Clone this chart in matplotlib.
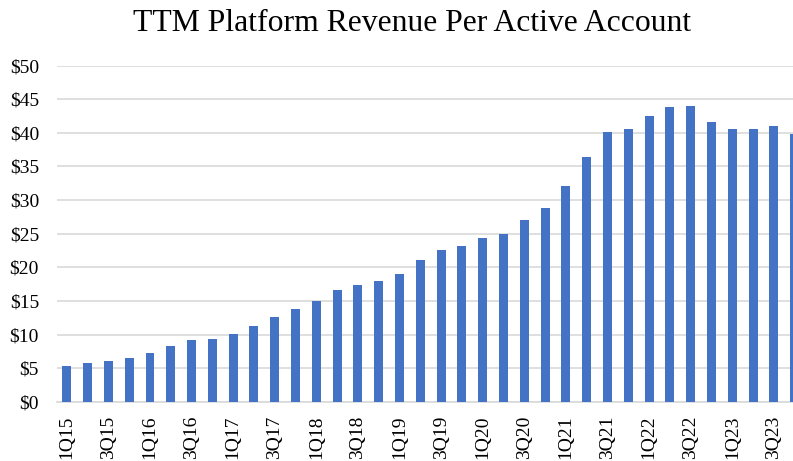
import numpy as np
import matplotlib.pyplot as plt

# TTM platform revenue per active account, 1Q15 - 4Q23
quarters = [f'{q}Q{y}' for y in range(15, 24) for q in range(1, 5)]
revenue = [5.36, 5.71, 6.06, 6.45,
           7.20, 8.34, 9.23, 9.28,
           10.07, 11.20, 12.65, 13.80,
           15.03, 16.60, 17.37, 17.96,
           19.05, 21.04, 22.57, 23.10,
           24.30, 24.90, 27.00, 28.80,
           32.10, 36.46, 40.10, 40.60,
           42.56, 43.80, 44.00, 41.67,
           40.60, 40.60, 41.00, 39.90]
ytick_vals = list(range(0, 55, 5))

plt.rcParams['font.family'] = ['Liberation Serif', 'DejaVu Serif']

fig = plt.figure(figsize=(7.93, 4.61), dpi=100)
ax = fig.add_axes([0.0719, 0.1286, 0.9281, 0.7289])

x = np.arange(len(quarters))
ax.bar(x, revenue, width=0.43, color='#4472C4', zorder=3)

ax.set_ylim(0, 50)
ax.set_xlim(-0.47, 34.92)
ax.set_yticks(ytick_vals)
ax.set_yticklabels([f'${v}' for v in ytick_vals], fontsize=14)
ax.set_xticks(x[::2])
ax.set_xticklabels(quarters[::2], rotation=90, fontsize=14)

ax.grid(axis='y', color='#d9d9d9', linewidth=1.2, zorder=0)
for s in ['top', 'right', 'left']:
    ax.spines[s].set_visible(False)
ax.spines['bottom'].set_color('#d9d9d9')
ax.spines['bottom'].set_linewidth(1.2)
ax.tick_params(axis='both', length=0, colors='black')
ax.tick_params(axis='y', pad=13)
ax.tick_params(axis='x', pad=10)

fig.text(0.519, 0.949, 'TTM Platform Revenue Per Active Account',
         ha='center', va='center', fontsize=22.8)

fig.savefig('out.png', dpi=100)
